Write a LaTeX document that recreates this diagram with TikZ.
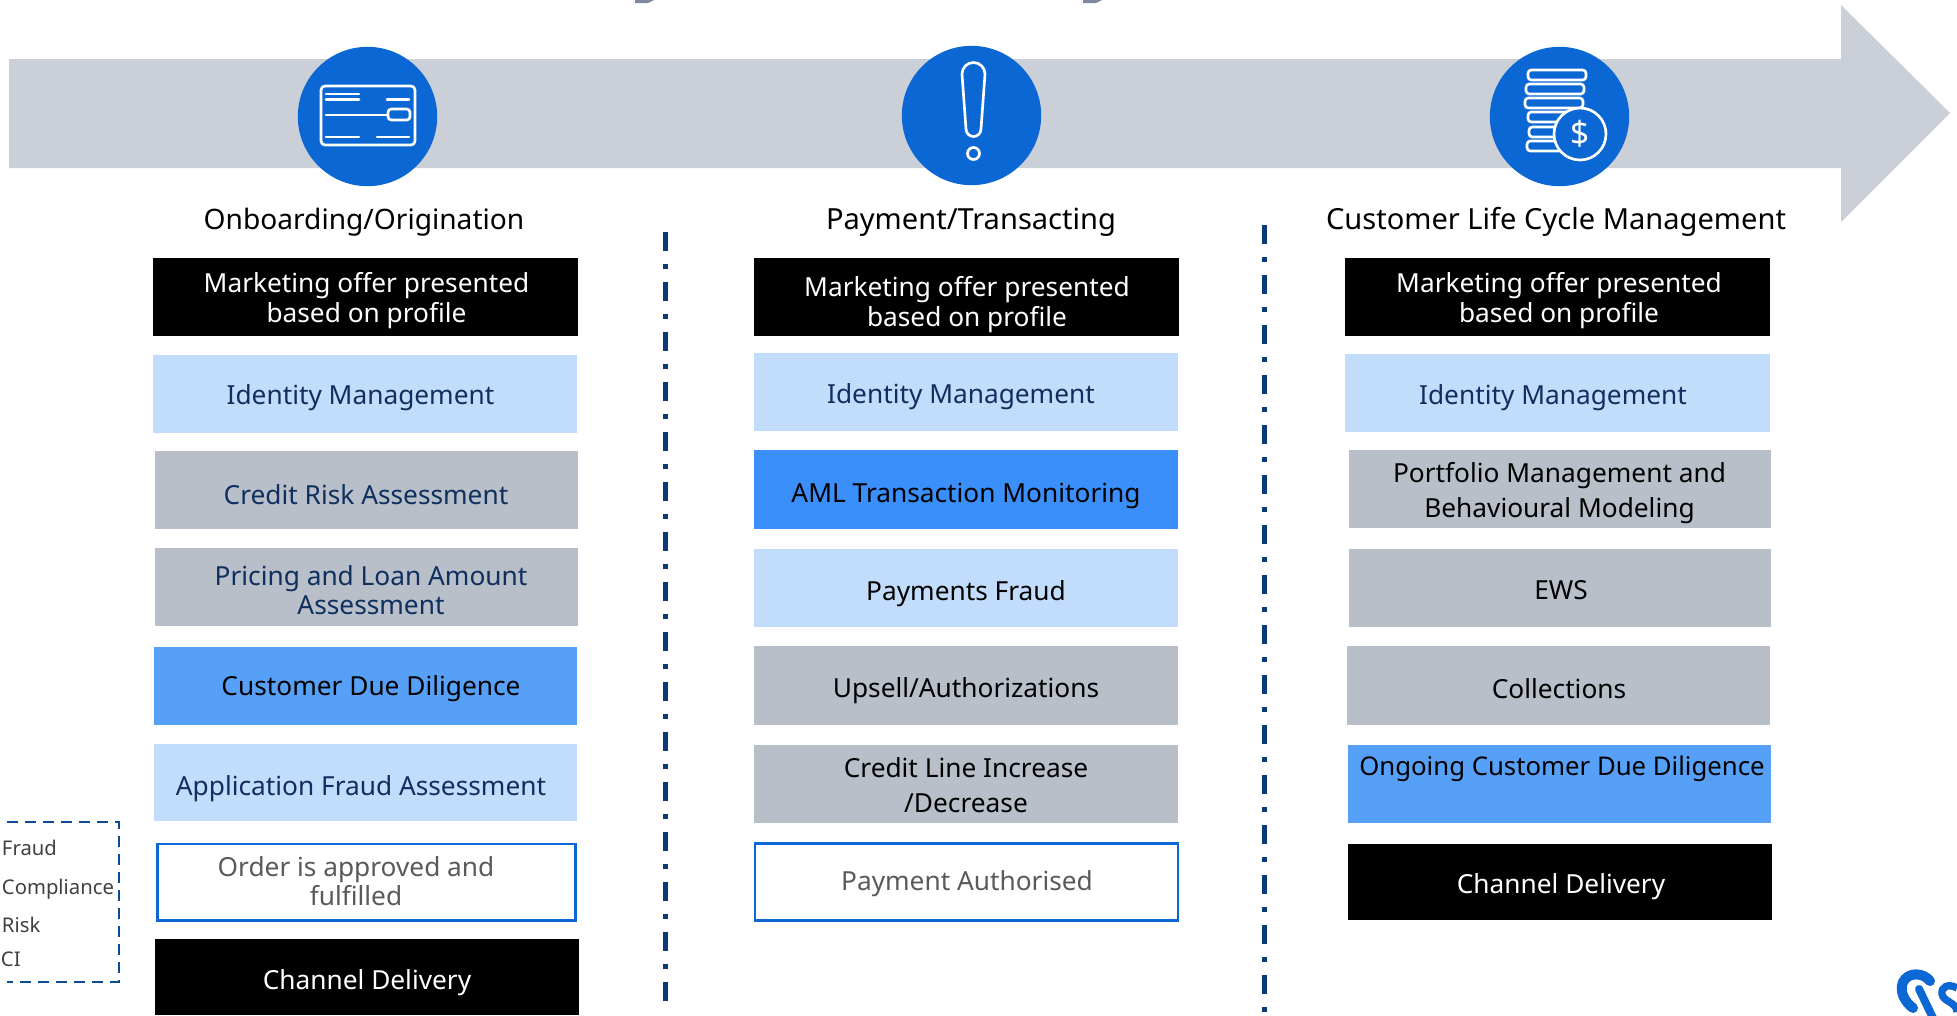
\documentclass[tikz,border=0pt]{standalone}
\usepackage{fontspec}
\setmainfont{Noto Sans}
\usetikzlibrary{arrows.meta}

\definecolor{arrowgrey}{HTML}{CACFD8}
\definecolor{discblue}{HTML}{0A67D3}
\definecolor{softblue}{HTML}{C2DDFC}
\definecolor{slategrey}{HTML}{B8BFC9}
\definecolor{midblue}{HTML}{57A0F8}
\definecolor{brightblue}{HTML}{3B8FFA}
\definecolor{navytext}{HTML}{0F2F5F}
\definecolor{sepnavy}{HTML}{0B3A78}
\definecolor{keynavy}{HTML}{0B4A94}
\definecolor{greytext}{HTML}{5A5A5A}
\definecolor{titlegrey}{HTML}{7F8AA3}

% #1 box style, #2 name, #3-#6 corners, #7 text position, #8 text style, #9 text
\newcommand{\stagebox}[9]{
	\node[#1, minimum width={(#5-#3)*0.75pt}, minimum height={(#6-#4)*0.75pt}] (#2) at ({(#3+#5)/2},{(#4+#6)/2}) {};
	\node[stagetext, #8] (#2 text) at #7 {#9};
}

\begin{document}
\begin{tikzpicture}[x = 0.75pt, y = -0.75pt,
	every node/.style={inner sep = 0pt, outer sep = 0pt},
	stagetext/.style={anchor = base, align = center, font=\fontsize{19.7}{22.5}\selectfont},
	navy/.style={text = navytext},
	dark/.style={text = black},
	pale/.style={text = white},
	dim/.style={text = greytext},
	blackbox/.style={fill = black},
	softbox/.style={fill = softblue},
	slatebox/.style={fill = slategrey},
	midbox/.style={fill = midblue},
	brightbox/.style={fill = brightblue},
	openbox/.style={draw = discblue, line width = 2.2pt, fill = white},
	disc/.style={circle, fill = discblue, minimum size = 104.5pt},
	heading/.style={anchor = base, font=\fontsize{21.8}{24}\selectfont},
	legend/.style={anchor = base west, text = black!75, font=\fontsize{15.2}{17}\selectfont},
	icon/.style={draw = white, line width = 2pt, line join = round, line cap = round},
	separator/.style={draw = sepnavy, line width = 3.5pt, dash pattern = on 14.25pt off 9.75pt on 3.75pt off 9.75pt}]

	\useasboundingbox (0,0) rectangle (1957,1015);

	% cut off title
	\fill[titlegrey] (635,0) -- (654,0) -- (648,3) -- (635,3) -- cycle;
	\fill[titlegrey] (1083,0) -- (1102,0) -- (1096,3) -- (1083,3) -- cycle;

	% big arrow
	\fill[arrowgrey] (9,59) -- (1841,59) -- (1841,5) -- (1950,113) -- (1841,222) -- (1841,168) -- (9,168) -- cycle;

	\node[disc] (cardDisc) at (367.5,116.5) {};
	\node[disc] (alertDisc) at (971.5,115.5) {};
	\node[disc] (coinDisc) at (1559.5,116.5) {};

	% card icon
	\draw[icon, rounded corners = 3pt] (321,86) rectangle (415,145);
	\draw[icon] (326,94) -- (359,94);
	\draw[icon] (326,99.5) -- (359,99.5);
	\draw[icon] (387,99.5) -- (409,99.5);
	\draw[icon] (326,115) -- (387,115);
	\draw[icon, rounded corners = 2.5pt] (388,109) rectangle (410,120);
	\draw[icon] (326,137) -- (359,137);
	\draw[icon] (377,137) -- (409,137);

	% alert icon
	\draw[icon] (962,74) arc (180:360:11.5) -- (981,129) arc (0:180:7.5) -- cycle;
	\draw[icon] (973.5,153.5) circle (6);

	% coin icon
	\draw[icon, rounded corners = 2.5pt] (1528,70) rectangle (1586,80);
	\draw[icon, rounded corners = 2.5pt] (1526,84) rectangle (1584,94);
	\draw[icon, rounded corners = 2.5pt] (1525,98) rectangle (1583,108);
	\draw[icon, rounded corners = 2.5pt] (1528,112) rectangle (1586,122);
	\draw[icon, rounded corners = 2.5pt] (1529,127) rectangle (1587,137);
	\draw[icon, rounded corners = 2.5pt] (1527,141) rectangle (1585,151);
	\node[circle, draw = white, line width = 2pt, fill = discblue, minimum size = 39pt, text = white, font=\fontsize{25}{28}\bfseries\selectfont] (coin) at (1580,134) {\$};

	% headings
	\node[heading, font=\fontsize{21.1}{24}\selectfont] (onboarding) at (364,229) {Onboarding/Origination};
	\node[heading] (payment) at (971,229) {Payment/Transacting};
	\node[heading] (lifecycle) at (1556,229) {Customer Life Cycle Management};

	% first column
	\stagebox{blackbox}{offerA}{153}{258}{578}{336}{(366.5,322.5)}{pale}{Marketing offer presented\\based on profile}
	\stagebox{softbox}{identityA}{153}{355}{577}{433}{(360.5,404)}{navy}{Identity Management}
	\stagebox{slatebox}{creditA}{155}{451}{578}{529}{(366,504.5)}{navy}{Credit Risk Assessment}
	\stagebox{slatebox}{pricingA}{155}{548}{578}{626}{(371,614)}{navy}{Pricing and Loan Amount\\[-0.75pt]Assessment}
	\stagebox{midbox}{diligenceA}{154}{647}{577}{725}{(371,695)}{dark}{Customer Due Diligence}
	\stagebox{softbox}{fraudA}{154}{744}{577}{821}{(361,795)}{navy}{Application Fraud Assessment}
	\stagebox{openbox}{orderA}{157.5}{844}{575.5}{920.5}{(356,905)}{dim}{Order is approved and\\[-0.75pt]fulfilled}
	\stagebox{blackbox}{channelA}{155}{939}{579}{1015}{(367,989.5)}{pale}{Channel Delivery}

	% second column
	\stagebox{blackbox}{offerB}{754}{258}{1179}{336}{(967,326.5)}{pale}{Marketing offer presented\\based on profile}
	\stagebox{softbox}{identityB}{754}{353}{1178}{431}{(961,403)}{navy}{Identity Management}
	\stagebox{brightbox}{amlB}{754}{450}{1178}{529}{(966,502)}{dark}{AML Transaction Monitoring}
	\stagebox{softbox}{paymentsB}{754}{549}{1178}{627}{(966,600)}{dark}{Payments Fraud}
	\stagebox{slatebox}{upsellB}{754}{646}{1178}{725}{(966,697.5)}{dark}{Upsell/Authorizations}
	\stagebox{slatebox}{lineB}{754}{745}{1178}{823}{(966,812)}{dark}{Credit Line Increase\\[3.75pt]/Decrease}
	\stagebox{openbox}{authorisedB}{755}{843.5}{1178}{920.5}{(967,890)}{dim}{Payment Authorised}

	% third column
	\stagebox{blackbox}{offerC}{1345}{258}{1770}{336}{(1559,322.5)}{pale}{Marketing offer presented\\based on profile}
	\stagebox{softbox}{identityC}{1345}{354}{1770}{432}{(1553,404)}{navy}{Identity Management}
	\stagebox{slatebox}{portfolioC}{1349}{450}{1771}{528}{(1559.5,517.5)}{dark}{Portfolio Management and\\[3.75pt]Behavioural Modeling}
	\stagebox{slatebox}{ewsC}{1349}{549}{1771}{627}{(1561,599)}{dark}{EWS}
	\stagebox{slatebox}{collectionsC}{1347}{646}{1770}{725}{(1559,698)}{dark}{Collections}
	\stagebox{midbox}{ongoingC}{1348}{745}{1771}{823}{(1562,775)}{dark, font=\fontsize{19.3}{22.5}\selectfont}{Ongoing Customer Due Diligence}
	\stagebox{blackbox}{channelC}{1348}{844}{1772}{920}{(1561,893.5)}{pale}{Channel Delivery}

	% column separators
	\coordinate (sepAtop) at (665.7,232);
	\coordinate (sepAend) at (665.7,1002);
	\coordinate (sepBtop) at (1264.3,225);
	\coordinate (sepBend) at (1264.3,1012);
	\draw[separator] (sepAtop) -- (sepAend);
	\draw[separator] (sepBtop) -- (sepBend);

	% legend
	\draw[draw = keynavy, line width = 2.2pt, dash pattern = on 8.6pt off 4.9pt] (7,822) -- (119,822) -- (119,982) -- (7,982);
	\node[legend] (fraudKey) at (2,855) {Fraud};
	\node[legend] (complianceKey) at (2,894) {Compliance};
	\node[legend] (riskKey) at (2,932) {Risk};
	\node[legend] (ciKey) at (1,966) {CI};

	% cut off logo
	\begin{scope}
		\clip (1880,960) rectangle (1957,1015);
		\draw[discblue, line width = 7.5pt, line cap = round] (1930,981) .. controls (1923,972) and (1908,972) .. (1903,982) .. controls (1899,992) and (1905,1002) .. (1913,1008);
		\draw[discblue, line width = 6pt, line cap = round] (1919,989) -- (1934,1020);
		\draw[discblue, line width = 5.5pt] (1957,988) .. controls (1948,983) and (1941,987) .. (1942,994) .. controls (1943,1002) and (1957,1002) .. (1957,1012);
	\end{scope}
\end{tikzpicture}
\end{document}
